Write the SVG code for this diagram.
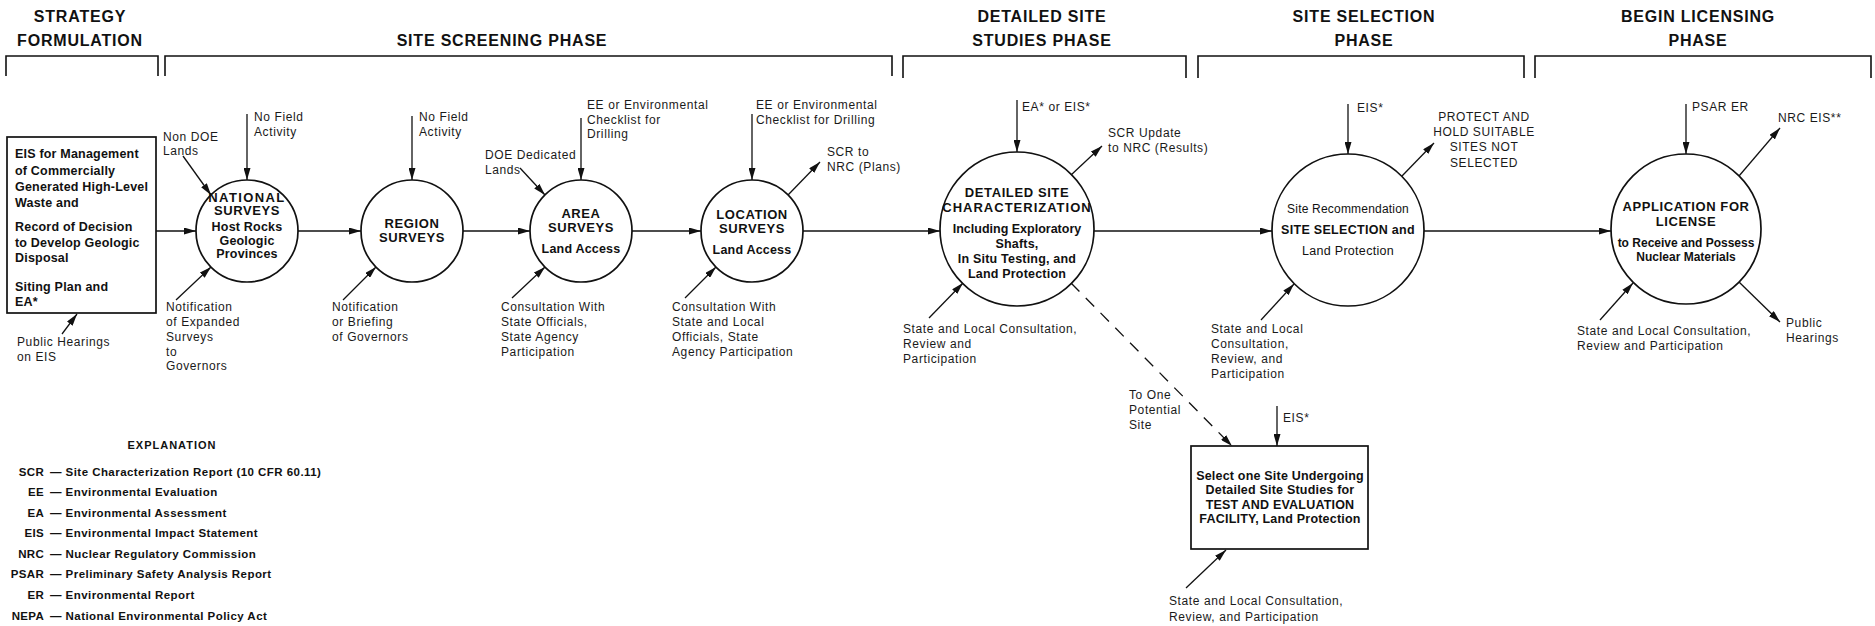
<svg xmlns="http://www.w3.org/2000/svg" width="1875" height="626" viewBox="0 0 1875 626">
  <defs>
    <marker id="arrow" markerUnits="userSpaceOnUse" markerWidth="13" markerHeight="7" refX="12" refY="3.5" orient="auto">
      <path d="M0,0 L12,3.5 L0,7 z" fill="#111"/>
    </marker>
    <style>
      .hdr { font-family: "Liberation Sans", Arial, sans-serif; font-size: 16px; font-weight: bold; fill: #111; text-anchor: middle; letter-spacing: 0.8px; }
      .bracket { fill: none; stroke: #111; stroke-width: 1.6; }
      .node { fill: #fff; stroke: #111; stroke-width: 1.7; }
      .title { font-family: "Liberation Sans", Arial, sans-serif; font-size: 13px; font-weight: bold; fill: #111; text-anchor: middle; letter-spacing: 0.6px; }
      .sub { font-family: "Liberation Sans", Arial, sans-serif; font-size: 12.5px; font-weight: bold; fill: #111; text-anchor: middle; letter-spacing: 0.2px; }
      .med { font-family: "Liberation Sans", Arial, sans-serif; font-size: 12.5px; fill: #111; text-anchor: middle; letter-spacing: 0.3px; }
      .boxtxt { font-family: "Liberation Sans", Arial, sans-serif; font-size: 12.5px; font-weight: bold; fill: #111; letter-spacing: 0.2px; }
      .lbl { font-family: "Liberation Sans", Arial, sans-serif; font-size: 12px; fill: #1a1a1a; letter-spacing: 0.6px; }
      .lblc { font-family: "Liberation Sans", Arial, sans-serif; font-size: 12px; fill: #1a1a1a; letter-spacing: 0.6px; text-anchor: middle; }
      .conn { fill: none; stroke: #111; stroke-width: 1.3; marker-end: url(#arrow); }
      .dash { fill: none; stroke: #111; stroke-width: 1.3; stroke-dasharray: 12 9; marker-end: url(#arrow); }
      .exh { font-family: "Liberation Sans", Arial, sans-serif; font-size: 11px; font-weight: bold; fill: #111; text-anchor: middle; letter-spacing: 1px; }
      .exa { font-family: "Liberation Sans", Arial, sans-serif; font-size: 11.5px; font-weight: bold; fill: #111; text-anchor: end; letter-spacing: 0.3px; }
      .exd { font-family: "Liberation Sans", Arial, sans-serif; font-size: 11.5px; font-weight: bold; fill: #111; letter-spacing: 0.45px; }
    </style>
  </defs>

  <rect width="1875" height="626" fill="#fff"/>

  <!-- Phase headings and brackets -->
  <g id="phases">
    <text class="hdr" x="80" y="22">STRATEGY</text>
    <text class="hdr" x="80" y="46">FORMULATION</text>
    <path class="bracket" d="M6,76 V56 H158 V76"/>

    <text class="hdr" x="502" y="46">SITE SCREENING PHASE</text>
    <path class="bracket" d="M165,76 V56 H892 V76"/>

    <text class="hdr" x="1042" y="22">DETAILED SITE</text>
    <text class="hdr" x="1042" y="46">STUDIES PHASE</text>
    <path class="bracket" d="M903,78 V56 H1186 V78"/>

    <text class="hdr" x="1364" y="22">SITE SELECTION</text>
    <text class="hdr" x="1364" y="46">PHASE</text>
    <path class="bracket" d="M1198,78 V56 H1524 V78"/>

    <text class="hdr" x="1698" y="22">BEGIN LICENSING</text>
    <text class="hdr" x="1698" y="46">PHASE</text>
    <path class="bracket" d="M1535,78 V56 H1871 V78"/>
  </g>

  <!-- Strategy box -->
  <g id="strategy">
    <rect class="node" x="7" y="137" width="149" height="176"/>
    <text class="boxtxt" x="15" y="158">EIS for Management</text>
    <text class="boxtxt" x="15" y="175">of Commercially</text>
    <text class="boxtxt" x="15" y="191">Generated High-Level</text>
    <text class="boxtxt" x="15" y="207">Waste and</text>
    <text class="boxtxt" x="15" y="231">Record of Decision</text>
    <text class="boxtxt" x="15" y="247">to Develop Geologic</text>
    <text class="boxtxt" x="15" y="262">Disposal</text>
    <text class="boxtxt" x="15" y="291">Siting Plan and</text>
    <text class="boxtxt" x="15" y="306">EA*</text>
  </g>

  <g id="national">
    <circle class="node" cx="247" cy="231" r="51"/>
    <text class="title" x="247" y="202" style="letter-spacing:1.4px">NATIONAL</text>
    <text class="title" x="247" y="215">SURVEYS</text>
    <text class="sub" x="247" y="231">Host Rocks</text>
    <text class="sub" x="247" y="245">Geologic</text>
    <text class="sub" x="247" y="258">Provinces</text>
  </g>

  <g id="region">
    <circle class="node" cx="412" cy="231" r="51"/>
    <text class="title" x="412" y="228">REGION</text>
    <text class="title" x="412" y="242">SURVEYS</text>
  </g>

  <g id="area">
    <circle class="node" cx="581" cy="231" r="51"/>
    <text class="title" x="581" y="218">AREA</text>
    <text class="title" x="581" y="232">SURVEYS</text>
    <text class="sub" x="581" y="253">Land Access</text>
  </g>

  <g id="location">
    <circle class="node" cx="752" cy="231" r="51"/>
    <text class="title" x="752" y="219">LOCATION</text>
    <text class="title" x="752" y="233">SURVEYS</text>
    <text class="sub" x="752" y="254">Land Access</text>
  </g>

  <g id="characterization">
    <circle class="node" cx="1017" cy="229" r="77"/>
    <text class="title" x="1017" y="197">DETAILED SITE</text>
    <text class="title" x="1017" y="212" style="letter-spacing:1px">CHARACTERIZATION</text>
    <text class="sub" x="1017" y="233" style="letter-spacing:0">Including Exploratory</text>
    <text class="sub" x="1017" y="248">Shafts,</text>
    <text class="sub" x="1017" y="263">In Situ Testing, and</text>
    <text class="sub" x="1017" y="278">Land Protection</text>
  </g>

  <g id="selection">
    <circle class="node" cx="1348" cy="230" r="76"/>
    <text class="med" x="1348" y="213" style="font-size:12px;letter-spacing:0.2px">Site Recommendation</text>
    <text class="med" x="1348" y="234" style="font-weight:600">SITE SELECTION and</text>
    <text class="med" x="1348" y="255">Land Protection</text>
  </g>

  <g id="application">
    <circle class="node" cx="1686" cy="229" r="75"/>
    <text class="title" x="1686" y="211">APPLICATION FOR</text>
    <text class="title" x="1686" y="226">LICENSE</text>
    <text class="sub" x="1686" y="247" style="font-size:12px;letter-spacing:0">to Receive and Possess</text>
    <text class="sub" x="1686" y="261" style="font-size:12px;letter-spacing:0">Nuclear Materials</text>
  </g>

  <g id="test-facility">
    <rect class="node" x="1191" y="446" width="177" height="103"/>
    <text class="sub" x="1280" y="480">Select one Site Undergoing</text>
    <text class="sub" x="1280" y="494">Detailed Site Studies for</text>
    <text class="sub" x="1280" y="509">TEST AND EVALUATION</text>
    <text class="sub" x="1280" y="523">FACILITY, Land Protection</text>
  </g>

  <!-- Connectors -->
  <g id="connectors">
    <!-- main flow -->
    <line class="conn" x1="156" y1="231" x2="196" y2="231"/>
    <line class="conn" x1="298" y1="231" x2="361" y2="231"/>
    <line class="conn" x1="463" y1="231" x2="530" y2="231"/>
    <line class="conn" x1="632" y1="231" x2="701" y2="231"/>
    <line class="conn" x1="803" y1="231" x2="940" y2="231"/>
    <line class="conn" x1="1094" y1="231" x2="1272" y2="231"/>
    <line class="conn" x1="1424" y1="231" x2="1611" y2="231"/>

    <!-- inputs and outputs -->
    <line class="conn" x1="62" y1="334" x2="77" y2="314"/>
    <line class="conn" x1="183" y1="156" x2="211" y2="195"/>
    <line class="conn" x1="247" y1="114" x2="247" y2="180"/>
    <line class="conn" x1="176" y1="300" x2="211" y2="267"/>
    <line class="conn" x1="412" y1="116" x2="412" y2="180"/>
    <line class="conn" x1="343" y1="300" x2="376" y2="267"/>
    <line class="conn" x1="520" y1="168" x2="545" y2="195"/>
    <line class="conn" x1="581" y1="118" x2="581" y2="180"/>
    <line class="conn" x1="512" y1="298" x2="545" y2="267"/>
    <line class="conn" x1="752" y1="114" x2="752" y2="180"/>
    <line class="conn" x1="788" y1="195" x2="820" y2="162"/>
    <line class="conn" x1="685" y1="298" x2="716" y2="267"/>
    <line class="conn" x1="1017" y1="100" x2="1017" y2="152"/>
    <line class="conn" x1="1071" y1="175" x2="1102" y2="146"/>
    <line class="conn" x1="929" y1="318" x2="963" y2="283"/>
    <line class="dash" x1="1071" y1="283" x2="1232" y2="446"/>
    <line class="conn" x1="1348" y1="104" x2="1348" y2="154"/>
    <line class="conn" x1="1402" y1="176" x2="1434" y2="143"/>
    <line class="conn" x1="1261" y1="320" x2="1294" y2="284"/>
    <line class="conn" x1="1686" y1="104" x2="1686" y2="154"/>
    <line class="conn" x1="1739" y1="176" x2="1780" y2="128"/>
    <line class="conn" x1="1600" y1="320" x2="1633" y2="283"/>
    <line class="conn" x1="1739" y1="282" x2="1780" y2="322"/>
    <line class="conn" x1="1277" y1="406" x2="1277" y2="446"/>
    <line class="conn" x1="1186" y1="588" x2="1226" y2="550"/>
  </g>

  <!-- Connector labels -->
  <g id="labels">
    <text class="lbl" x="17" y="346">Public Hearings</text>
    <text class="lbl" x="17" y="361">on EIS</text>

    <text class="lbl" x="163" y="141">Non DOE</text>
    <text class="lbl" x="163" y="155">Lands</text>
    <text class="lbl" x="254" y="121">No Field</text>
    <text class="lbl" x="254" y="136">Activity</text>
    <text class="lbl" x="166" y="311">Notification</text>
    <text class="lbl" x="166" y="326">of Expanded</text>
    <text class="lbl" x="166" y="341">Surveys</text>
    <text class="lbl" x="166" y="356">to</text>
    <text class="lbl" x="166" y="370">Governors</text>

    <text class="lbl" x="419" y="121">No Field</text>
    <text class="lbl" x="419" y="136">Activity</text>
    <text class="lbl" x="332" y="311">Notification</text>
    <text class="lbl" x="332" y="326">or Briefing</text>
    <text class="lbl" x="332" y="341">of Governors</text>

    <text class="lbl" x="485" y="159">DOE Dedicated</text>
    <text class="lbl" x="485" y="174">Lands</text>
    <text class="lbl" x="587" y="109">EE or Environmental</text>
    <text class="lbl" x="587" y="124">Checklist for</text>
    <text class="lbl" x="587" y="138">Drilling</text>
    <text class="lbl" x="501" y="311">Consultation With</text>
    <text class="lbl" x="501" y="326">State Officials,</text>
    <text class="lbl" x="501" y="341">State Agency</text>
    <text class="lbl" x="501" y="356">Participation</text>

    <text class="lbl" x="756" y="109">EE or Environmental</text>
    <text class="lbl" x="756" y="124">Checklist for Drilling</text>
    <text class="lbl" x="827" y="156">SCR to</text>
    <text class="lbl" x="827" y="171">NRC (Plans)</text>
    <text class="lbl" x="672" y="311">Consultation With</text>
    <text class="lbl" x="672" y="326">State and Local</text>
    <text class="lbl" x="672" y="341">Officials, State</text>
    <text class="lbl" x="672" y="356">Agency Participation</text>

    <text class="lbl" x="1022" y="111">EA* or EIS*</text>
    <text class="lbl" x="1108" y="137">SCR Update</text>
    <text class="lbl" x="1108" y="152">to NRC (Results)</text>
    <text class="lbl" x="903" y="333">State and Local Consultation,</text>
    <text class="lbl" x="903" y="348">Review and</text>
    <text class="lbl" x="903" y="363">Participation</text>
    <text class="lbl" x="1129" y="399">To One</text>
    <text class="lbl" x="1129" y="414">Potential</text>
    <text class="lbl" x="1129" y="429">Site</text>

    <text class="lbl" x="1357" y="112">EIS*</text>
    <text class="lblc" x="1484" y="121">PROTECT AND</text>
    <text class="lblc" x="1484" y="136">HOLD SUITABLE</text>
    <text class="lblc" x="1484" y="151">SITES NOT</text>
    <text class="lblc" x="1484" y="167">SELECTED</text>
    <text class="lbl" x="1211" y="333">State and Local</text>
    <text class="lbl" x="1211" y="348">Consultation,</text>
    <text class="lbl" x="1211" y="363">Review, and</text>
    <text class="lbl" x="1211" y="378">Participation</text>

    <text class="lbl" x="1692" y="111">PSAR ER</text>
    <text class="lbl" x="1778" y="122">NRC EIS**</text>
    <text class="lbl" x="1577" y="335">State and Local Consultation,</text>
    <text class="lbl" x="1577" y="350">Review and Participation</text>
    <text class="lbl" x="1786" y="327">Public</text>
    <text class="lbl" x="1786" y="342">Hearings</text>

    <text class="lbl" x="1283" y="422">EIS*</text>
    <text class="lbl" x="1169" y="605">State and Local Consultation,</text>
    <text class="lbl" x="1169" y="621">Review, and Participation</text>
  </g>

  <!-- Abbreviation key -->
  <g id="explanation">
    <text class="exh" x="172" y="449">EXPLANATION</text>
    <text class="exa" x="44" y="476">SCR</text>
    <text class="exd" x="50" y="476">—  Site Characterization Report (10 CFR 60.11)</text>
    <text class="exa" x="44" y="496">EE</text>
    <text class="exd" x="50" y="496">—  Environmental Evaluation</text>
    <text class="exa" x="44" y="517">EA</text>
    <text class="exd" x="50" y="517">—  Environmental Assessment</text>
    <text class="exa" x="44" y="537">EIS</text>
    <text class="exd" x="50" y="537">—  Environmental Impact Statement</text>
    <text class="exa" x="44" y="558">NRC</text>
    <text class="exd" x="50" y="558">—  Nuclear Regulatory Commission</text>
    <text class="exa" x="44" y="578">PSAR</text>
    <text class="exd" x="50" y="578">—  Preliminary Safety Analysis Report</text>
    <text class="exa" x="44" y="599">ER</text>
    <text class="exd" x="50" y="599">—  Environmental Report</text>
    <text class="exa" x="44" y="620">NEPA</text>
    <text class="exd" x="50" y="620">—  National Environmental Policy Act</text>
  </g>
</svg>
